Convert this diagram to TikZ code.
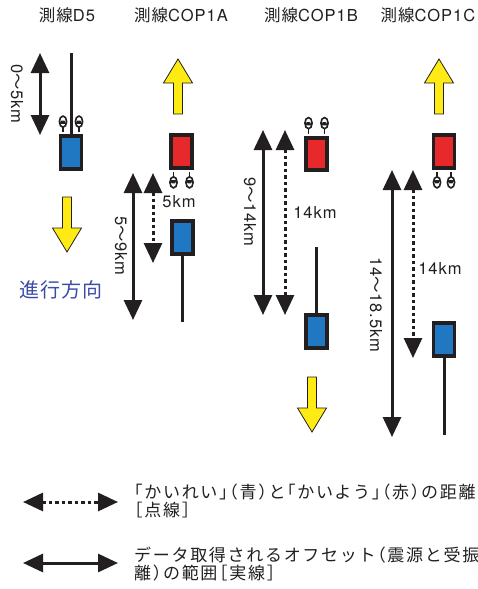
\documentclass[tikz,border=0pt]{standalone}
\usepackage{fontspec}
\usetikzlibrary{arrows.meta}
\setmainfont{TeX Gyre Heros}[LetterSpace=6]
\newfontfamily\cjk{Noto Sans CJK JP}[RawFeature=+halt,LetterSpace=6]
\newfontfamily\cjkleg{Noto Sans CJK JP}[RawFeature=+halt,LetterSpace=10]
\definecolor{ink}{HTML}{231F20}
\definecolor{shipblue}{HTML}{1F78C1}
\definecolor{shipred}{HTML}{E8292B}
\definecolor{yel}{HTML}{FFEB14}
\definecolor{dirblue}{HTML}{3B4DA8}
\begin{document}
\begin{tikzpicture}[x=1pt,y=-1pt,
  lbl/.style={font=\fontsize{16.5}{19}\selectfont, inner sep=0pt, text=ink},
  legtxt/.style={font=\cjkleg\fontsize{17}{18.5}\selectfont, inner sep=0pt, text=ink, anchor=west, align=left},
  ship/.style={draw=ink, line width=3.8pt, minimum width=21pt, minimum height=32.5pt, inner sep=0pt},
  streamer/.style={line width=3pt, draw=ink},
  solidarr/.style={line width=3pt, draw=ink, {Triangle[width=18pt,length=20pt]}-{Triangle[width=18pt,length=20pt]}},
  dotarr/.style={solidarr, dash pattern=on 3.5pt off 3pt},
  yeldown/.pic={\draw[ink, line width=0.8pt, fill=yel] (-4.5,0) -- (4.5,0) -- (4.5,31) -- (14.5,31) -- (0,55) -- (-14.5,31) -- (-4.5,31) -- cycle;},
  yelup/.pic={\draw[ink, line width=0.8pt, fill=yel] (0,0) -- (14.5,24) -- (4.5,24) -- (4.5,55) -- (-4.5,55) -- (-4.5,24) -- (-14.5,24) -- cycle;},
  buoyabove/.pic={\draw[ink, line width=1.2pt] (0,0) -- (0,-5);
    \draw[ink, line width=1.6pt, fill=white] (0,-10.8) ellipse (3.6 and 5.6);
    \fill[ink] (-3.3,-8.6) -- (3.3,-8.6) arc[start angle=-20, end angle=-160, x radius=3.6, y radius=5.6] -- cycle;},
  buoybelow/.pic={\draw[ink, line width=1.2pt] (0,0) -- (0,5);
    \draw[ink, line width=1.6pt, fill=white] (0,10.8) ellipse (3.6 and 5.6);
    \fill[ink] (-3.3,8.6) -- (3.3,8.6) arc[start angle=20, end angle=160, x radius=3.6, y radius=5.6] -- cycle;}
]
\useasboundingbox (0,0) rectangle (478,589);
\fill[white] (0,0) rectangle (478,589);

% titles
\node[lbl] (t1) at (67,15) {{\cjk 測線}D5};
\node[lbl] (t2) at (181,15) {{\cjk 測線}COP1A};
\node[lbl] (t3) at (311,15) {{\cjk 測線}COP1B};
\node[lbl] (t4) at (428,15) {{\cjk 測線}COP1C};

% ---------- D5 ----------
\coordinate (d5top) at (71,53);
\node[ship, fill=shipblue] (d5box) at (71,152.5) {};
\draw[streamer] (d5top) -- (d5box.north);
\node[ship, fill=shipblue] at (d5box) {};
\pic at ([xshift=-8pt,yshift=1.9pt]d5box.north) {buoyabove};
\pic at ([xshift=8pt,yshift=1.9pt]d5box.north) {buoyabove};
\coordinate (d5a) at (40,53);
\coordinate (d5b) at (40,135);
\draw[solidarr] (d5a) -- (d5b);
\node[lbl, rotate=-90] (d5l) at (17,94) {0{\cjk ～}5km};
\pic at (67,197) {yeldown};
\node[font=\cjk\fontsize{20}{24}\selectfont, text=dirblue, inner sep=0pt] (dir) at (61,290) {進行方向};

% ---------- COP1A ----------
\pic at (178,59) {yelup};
\node[ship, fill=shipred] (a1red) at (181.5,151.5) {};
\pic at ([xshift=-8pt,yshift=-1.9pt]a1red.south) {buoybelow};
\pic at ([xshift=8pt,yshift=-1.9pt]a1red.south) {buoybelow};
\coordinate (a1end) at (182.5,322);
\draw[streamer] (182.5,237.5) -- (a1end);
\node[ship, fill=shipblue] (a1blue) at (182.5,237.5) {};
\coordinate (a1sa) at (133,173);
\coordinate (a1sb) at (133,320);
\draw[solidarr] (a1sa) -- (a1sb);
\coordinate (a1da) at (153,173);
\coordinate (a1db) at (153,263);
\draw[dotarr] (a1da) -- (a1db);
\node[lbl, rotate=-90] (a1l) at (121,246) {5{\cjk ～}9km};
\node[lbl] (a1d) at (179,202) {5km};

% ---------- COP1B ----------
\node[ship, fill=shipred] (b1red) at (316.5,154) {};
\pic at ([xshift=-8pt,yshift=1.9pt]b1red.north) {buoyabove};
\pic at ([xshift=8pt,yshift=1.9pt]b1red.north) {buoyabove};
\coordinate (b1top) at (316.5,247);
\draw[streamer] (b1top) -- (316.5,331.5);
\node[ship, fill=shipblue] (b1blue) at (316.5,331.5) {};
\coordinate (b1sa) at (263,130);
\coordinate (b1sb) at (263,315);
\draw[solidarr] (b1sa) -- (b1sb);
\coordinate (b1da) at (285,130);
\coordinate (b1db) at (285,315);
\draw[dotarr] (b1da) -- (b1db);
\node[lbl, rotate=-90] (b1l) at (250,212) {9{\cjk ～}14km};
\node[lbl] (b1d) at (315,212) {14km};
\pic at (312,377) {yeldown};

% ---------- COP1C ----------
\pic at (439,59) {yelup};
\node[ship, fill=shipred] (c1red) at (444,151.5) {};
\pic at ([xshift=-7pt,yshift=-1.9pt]c1red.south) {buoybelow};
\pic at ([xshift=7pt,yshift=-1.9pt]c1red.south) {buoybelow};
\coordinate (c1end) at (444,435);
\draw[streamer] (444,339.5) -- (c1end);
\node[ship, fill=shipblue] (c1blue) at (444,339.5) {};
\coordinate (c1sa) at (392,170);
\coordinate (c1sb) at (392,437);
\draw[solidarr] (c1sa) -- (c1sb);
\coordinate (c1da) at (413,170);
\coordinate (c1db) at (413,358);
\draw[dotarr] (c1da) -- (c1db);
\node[lbl, rotate=-90] (c1l) at (376,305) {14{\cjk ～}18.5km};
\node[lbl] (c1d) at (440,268) {14km};

% ---------- legend ----------
\coordinate (lg1a) at (23,502);
\coordinate (lg1b) at (118,502);
\draw[dotarr] (lg1a) -- (lg1b);
\node[legtxt] (lgt1) at (134,501) {「かいれい」（青）と「かいよう」（赤）の距離\\［点線］};
\coordinate (lg2a) at (23,563);
\coordinate (lg2b) at (118,563);
\draw[solidarr] (lg2a) -- (lg2b);
\node[legtxt] (lgt2) at (134,564) {データ取得されるオフセット（震源と受振\\離）の範囲［実線］};
\end{tikzpicture}
\end{document}
